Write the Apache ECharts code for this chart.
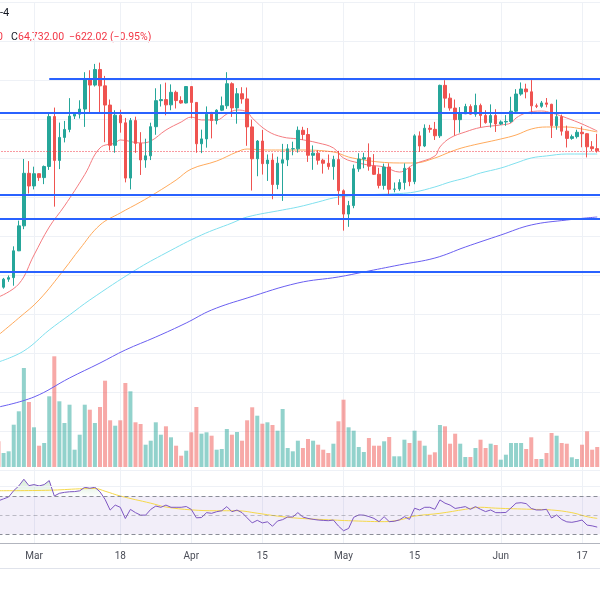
<!DOCTYPE html>
<html><head><meta charset="utf-8">
<script src="https://cdn.jsdelivr.net/npm/echarts@6/dist/echarts.min.js"></script>
<style>html,body{margin:0;padding:0;background:#fff}#c{width:600px;height:600px}</style>
</head><body><div id="c"></div>
<script>
// ---- categories: daily dates 2024-02-23 .. 2024-06-21 ----
const firstDay = [2024, 1, 23];
const dayCount = 120;
const dates = [];
for (let i = 0; i < dayCount; i++) {
  dates.push(new Date(Date.UTC(firstDay[0], firstDay[1], firstDay[2] + i)).toISOString().slice(0, 10));
}
const tickDates = ['2024-03-01','2024-03-18','2024-04-01','2024-04-15','2024-05-01','2024-05-15','2024-06-01','2024-06-17'];
const tickLabels = ['Mar','18','Apr','15','May','15','Jun','17'];

// ---- OHLC (Feb 23 .. Jun 20) ----
const open = [51300,50750,51570,51730,54480,57040,62430,
 61130,62390,61990,63130,68250,63750,66110,66930,68300,68500,69020,72120,71480,73080,71400,69430,65300,68390,67610,61940,67840,65500,63800,64220,67210,69880,69990,69450,70740,69890,69640,
 71330,69700,65460,65960,68500,67840,68900,69360,71620,69140,70590,70060,67190,63920,65740,63420,63790,61280,63470,63820,64940,64940,66840,66410,64280,64500,63770,63460,63120,63840,
 60640,58250,59120,62890,63890,64030,63160,62330,61190,63070,60790,60820,61480,62940,61580,66270,65230,67050,66940,66280,71450,70140,69120,67930,68530,69280,68500,69390,68360,67630,68360,
 67490,67700,67750,68800,70560,71080,70790,69350,69300,69650,69510,67320,68240,66750,66010,66190,66640,66490,65150,64960];
const high = [51550,51700,51950,54940,57580,63900,63680,
 63110,62430,63230,68700,69170,67630,67800,70140,68680,69920,72800,73000,73650,73780,72420,70000,68900,68950,68110,68100,68240,66650,65980,67620,71150,71560,71730,71550,70910,70330,71370,
 71340,69710,66910,69290,68730,69000,70300,72800,71760,71170,71260,71230,67940,65840,66880,64360,64470,64130,65450,65420,65670,67230,67200,67080,65290,64790,63920,64360,64230,64730,
 60780,59600,63320,64490,64530,65500,64400,62990,63420,63460,61490,61820,63450,63100,66440,66730,67450,67400,67700,71520,71980,70630,70000,69220,69560,69500,70600,69580,68900,69500,69000,
 67860,68400,70280,71060,71750,71620,71990,69580,69850,70150,69560,69990,68450,67320,66400,66900,67250,66560,65730,66480];
const low = [50550,50600,51300,50900,54450,56700,60360,
 60780,61650,61320,62780,59010,62860,65600,66640,68000,68050,67190,68620,71330,68560,65620,64780,64540,66600,61500,60780,64530,62260,63000,63790,66380,69280,68380,68900,69080,69570,69600,
 68060,64540,64500,65060,66010,67450,68810,69040,68210,67520,69570,65250,60660,62130,62300,61650,59770,60800,59600,63170,64280,64550,65850,63600,62790,63320,62400,62800,61770,59190,
 56550,56940,58850,62580,62950,62700,62260,60880,60760,60190,60480,60630,60750,61110,61310,64620,65120,66600,65850,66060,69160,68850,66300,66600,68520,68460,68230,67130,67520,67120,66670,
 67390,67300,67600,68560,70390,70120,68500,69120,69150,69200,66050,66900,66300,65080,65870,66000,65100,64060,64690,64550];
const close = [50750,51570,51730,54480,57040,62430,61130,
 62390,61990,63130,68250,63750,66110,66930,68300,68500,69020,72120,71480,73080,71400,69430,65300,68390,67610,61940,67840,65500,63800,64220,67210,69880,69990,69450,70740,69890,69640,71330,
 69700,65460,65960,68500,67840,68900,69360,71620,69140,70590,70060,67190,63920,65740,63420,63790,61280,63470,63820,64940,64960,66840,66410,64280,64500,63770,63460,63120,63840,60640,
 58250,59120,62890,63890,64030,63160,62330,61190,63070,60790,60820,61480,62940,61580,66270,65230,67050,66940,66280,71450,70140,69120,67930,68530,69280,68500,69390,68360,67630,68360,67490,
 67700,67750,68800,70560,71080,70790,69350,69300,69650,69510,67320,68240,66750,66010,66190,66640,66490,65150,64960,64732];

// ---- volume (BTC) ----
const volume = [25700,14000,15700,42300,55700,99000,65000,
 39700,21300,24000,70700,110700,65700,44000,62300,17300,32300,62300,57300,44000,60000,86300,46700,41300,46700,84000,75700,44700,43000,22300,26300,44700,32300,40700,29700,21300,11300,16300,
 34700,60000,33300,34700,31300,17300,18000,38000,32300,35000,26300,46700,59700,51300,43300,44700,42000,36300,58000,19000,15700,26300,19000,28000,26300,22300,17300,14000,23300,45700,
 67300,39700,36300,20000,15000,29000,21300,21300,25700,30000,10700,10700,27300,24000,36300,26300,21300,12300,14700,42000,40700,23300,33300,23300,10000,10000,19000,27300,19000,23300,22000,
 7300,12300,24000,24000,24000,18000,29700,8000,8000,14000,34000,31300,24000,23300,9700,8000,22300,35700,17300,20000];

// ---- moving averages [date, price] ----
const ma20 = [['2024-02-23',49740],['2024-02-27',51080],['2024-03-01',54050],['2024-03-04',56920],['2024-03-07',59080],['2024-03-11',62300],['2024-03-14',65030],['2024-03-17',65540],['2024-03-18',65850],['2024-03-22',65540],['2024-03-24',65740],['2024-03-27',66870],['2024-03-30',67690],['2024-04-01',68200],['2024-04-03',67900],['2024-04-06',67900],['2024-04-08',68510],['2024-04-10',68920],['2024-04-12',68720],['2024-04-13',68100],['2024-04-16',66770],['2024-04-19',66150],['2024-04-22',65950],['2024-04-26',65540],['2024-04-29',65030],['2024-05-01',64000],['2024-05-04',63490],['2024-05-06',63280],['2024-05-09',63080],['2024-05-12',62560],['2024-05-15',63390],['2024-05-19',64200],['2024-05-20',65130],['2024-05-22',66050],['2024-05-25',66670],['2024-05-28',67130],['2024-06-01',67390],['2024-06-03',67590],['2024-06-04',68100],['2024-06-06',68620],['2024-06-09',68820],['2024-06-11',68620],['2024-06-14',68100],['2024-06-17',67490],['2024-06-20',66770]];
const ma50 = [['2024-02-23',45850],['2024-02-27',47590],['2024-03-02',49440],['2024-03-07',52610],['2024-03-10',54660],['2024-03-14',57130],['2024-03-18',58360],['2024-03-22',59490],['2024-03-25',60410],['2024-03-29',61740],['2024-04-01',62870],['2024-04-06',63690],['2024-04-10',64620],['2024-04-12',64920],['2024-04-16',64820],['2024-04-22',64820],['2024-04-29',64620],['2024-05-02',64100],['2024-05-05',63800],['2024-05-08',63590],['2024-05-12',63490],['2024-05-15',63490],['2024-05-19',64000],['2024-05-22',64620],['2024-05-25',65130],['2024-06-01',65950],['2024-06-04',66360],['2024-06-07',66970],['2024-06-10',67180],['2024-06-14',67180],['2024-06-17',66970],['2024-06-20',66670]];
const ma100 = [['2024-02-23',43080],['2024-02-28',44210],['2024-03-04',46360],['2024-03-08',47900],['2024-03-12',49440],['2024-03-21',52510],['2024-03-27',54260],['2024-04-03',56100],['2024-04-09',57330],['2024-04-12',57950],['2024-04-19',58670],['2024-04-22',58970],['2024-04-26',59490],['2024-04-29',59900],['2024-05-02',60100],['2024-05-05',60210],['2024-05-12',60360],['2024-05-15',60510],['2024-05-19',61030],['2024-05-22',61540],['2024-05-25',61950],['2024-05-28',62460],['2024-06-01',62970],['2024-06-04',63490],['2024-06-07',64000],['2024-06-10',64210],['2024-06-14',64410],['2024-06-17',64410],['2024-06-20',64410]];
const ma200 = [['2024-02-23',38460],['2024-03-01',39490],['2024-03-08',41440],['2024-03-14',42970],['2024-03-19',44310],['2024-03-25',45640],['2024-03-31',47080],['2024-04-05',48410],['2024-04-12',49640],['2024-04-22',51180],['2024-04-30',51800],['2024-05-05',52310],['2024-05-12',53030],['2024-05-19',53740],['2024-05-25',54870],['2024-06-01',56100],['2024-06-07',57130],['2024-06-14',57640],['2024-06-20',57950]];

// ---- horizontal levels ----
const levelTop = 72100;
const levelTopStart = '2024-03-04';
const levels = [68600, 60200, 57800, 52350];
const lastPrice = 64732;

// ---- RSI (daily) and its moving average ----
const rsi = [65,67,69,75.6,80.5,87.5,80.8,81.9,80.5,81.9,86.1,70,72.8,73.8,74.4,74.6,75.4,79.1,78.1,79.1,
 74.4,66.5,55.3,60.5,58.2,46.5,56,52.6,50,50,56,59.5,58.2,60.5,58.2,58.2,58.2,59,56,47.2,
 47.5,52.6,51.9,53.6,54.6,58.9,53.6,55.3,52.6,47.2,41.9,44.6,41.9,43,38.4,43.9,45.3,48.1,48.1,52.6,
 48,46.6,45.6,44.9,44.5,44.2,44.9,38.6,33.7,36.1,47.7,50.2,50,48.5,46.6,43.2,48.4,43.2,43.6,45,
 48.4,45.6,57.2,55.4,58.2,58.2,56.1,65.9,62.5,60.5,57,57.9,58.9,56.1,58.9,56.1,53.7,55.4,52.6,52.6,
 52.8,57.5,62.5,63,62,57,55.4,55.4,56.1,47,50.2,45.5,43,42.5,43.5,44.9,39.6,38.8,37.5];
const rsiMa = [['2024-02-23',75.5],['2024-03-04',76],['2024-03-10',77.5],['2024-03-13',77.8],['2024-03-15',75],['2024-03-18',70],['2024-03-24',62.5],['2024-03-27',58.5],['2024-04-01',55.5],['2024-04-06',54.6],['2024-04-10',54.6],['2024-04-14',52],['2024-04-18',49],['2024-04-22',46.8],['2024-04-29',44.9],['2024-05-02',44.2],['2024-05-09',43.2],['2024-05-12',44.9],['2024-05-15',49],['2024-05-20',51.9],['2024-05-25',56.1],['2024-05-28',58.2],['2024-05-31',57.3],['2024-06-07',56.1],['2024-06-11',55.4],['2024-06-15',52.6],['2024-06-18',48.4],['2024-06-20',46.6]];
const rsiLevels = [70, 50, 30];
const rsiGridLevel = 80.4;

// ---- build ----
const up = '#26a69a', down = '#ef5350';
const candles = open.map((o, i) => [o, close[i], low[i], high[i]]);
const volData = volume.map((v, i) => ({value: v, itemStyle: {color: close[i] >= open[i] ? 'rgba(38,166,154,0.5)' : 'rgba(239,83,80,0.5)'}}));
const isTick = (idx, val) => tickDates.indexOf(val) >= 0;
const gridBase = {left: -1.5, right: -2.3, containLabel: false, outerBoundsMode: 'none'};
const gridCol = '#eef1f6';

function xAx(gi, showSplit, showLabel) {
  return {
    type: 'category', data: dates, gridIndex: gi, boundaryGap: false,
    axisTick: {show: false},
    axisLine: {show: showLabel, lineStyle: {color: '#b2b5be', width: 1}},
    axisLabel: {show: showLabel, interval: isTick, margin: 8, fontSize: 10, color: '#4a4d57', fontFamily: 'Roboto',
      formatter: v => tickLabels[tickDates.indexOf(v)] || ''},
    splitLine: {show: showSplit, interval: isTick, lineStyle: {color: gridCol, width: 1}}
  };
}
function lineSeries(pts, color, width) {
  return {type: 'line', xAxisIndex: 0, yAxisIndex: 0, data: pts, showSymbol: false, smooth: 0.4,
    lineStyle: {color: color, width: width}, silent: true, z: 3};
}

const option = {
  animation: false,
  backgroundColor: '#ffffff',
  grid: [
    Object.assign({top: 2, height: 468}, gridBase),
    Object.assign({top: 337, height: 130}, gridBase),
    Object.assign({top: 470, height: 73}, gridBase),
    Object.assign({top: 470, height: 26}, gridBase)
  ],
  xAxis: [xAx(0, true, false), xAx(1, false, false), xAx(2, true, true), xAx(3, false, false)],
  yAxis: [
    {gridIndex: 0, min: 32000, max: 80000, interval: 4000, axisLabel: {show: false}, axisLine: {show: false}, axisTick: {show: false},
      splitLine: {show: true, lineStyle: {color: gridCol}}},
    {gridIndex: 1, min: 0, max: 130000, show: false, splitLine: {show: false}},
    {gridIndex: 2, min: 20.9, max: 97.15, axisLabel: {show: false}, axisLine: {show: false}, axisTick: {show: false}, splitLine: {show: false}},
    {gridIndex: 3, min: 70, max: 97.15, show: false, splitLine: {show: false}}
  ],
  series: [
    {type: 'bar', xAxisIndex: 1, yAxisIndex: 1, data: volData, barWidth: 4, silent: true, z: 1},
    {type: 'candlestick', xAxisIndex: 0, yAxisIndex: 0, data: candles, barWidth: 3, silent: true, z: 4,
      itemStyle: {color: up, color0: down, borderColor: up, borderColor0: down, borderWidth: 1},
      markLine: {silent: true, symbol: 'none', animation: false, label: {show: false},
        data: [
          [{coord: [levelTopStart, levelTop]}, {coord: [dates[dates.length - 1], levelTop]}],
          ...levels.map(v => ({yAxis: v})),
          {yAxis: lastPrice, lineStyle: {color: '#f23645', type: [1, 2], width: 1}}
        ],
        lineStyle: {color: '#2962ff', width: 2, type: 'solid'}}},
    lineSeries(ma200, '#6a5ff0', 1),
    lineSeries(ma100, '#80e0ee', 1),
    lineSeries(ma50, '#ffaa5c', 1),
    lineSeries(ma20, '#f47c80', 1),
    {type: 'line', xAxisIndex: 3, yAxisIndex: 3, data: rsi, showSymbol: false, silent: true, z: 2,
      lineStyle: {opacity: 0, width: 0},
      areaStyle: {origin: 'start', color: new echarts.graphic.LinearGradient(0, 468, 0, 496, [
        {offset: 0, color: 'rgba(76,175,80,0.55)'}, {offset: 1, color: 'rgba(76,175,80,0.02)'}], true)}},
    {type: 'line', xAxisIndex: 2, yAxisIndex: 2, data: rsi, showSymbol: false, silent: true, z: 4,
      lineStyle: {color: '#7e57c2', width: 1},
      markArea: {silent: true, itemStyle: {color: 'rgba(126,87,194,0.1)'}, data: [[{yAxis: rsiLevels[2]}, {yAxis: rsiLevels[0]}]]},
      markLine: {silent: true, symbol: 'none', label: {show: false},
        lineStyle: {color: '#8a8d97', width: 1, type: [4, 3]},
        data: [{yAxis: rsiLevels[0]}, {yAxis: rsiLevels[1], lineStyle: {color: 'rgba(120,123,134,0.45)', type: [4, 3]}}, {yAxis: rsiLevels[2]},
               {yAxis: rsiGridLevel, lineStyle: {color: gridCol, type: 'solid'}}]}},
    {type: 'line', xAxisIndex: 2, yAxisIndex: 2, data: rsiMa, showSymbol: false, smooth: 0.4, silent: true, z: 3,
      lineStyle: {color: '#f5d84a', width: 1}}
  ],
  graphic: [
    {type: 'line', shape: {x1: 0, y1: 568.5, x2: 600, y2: 568.5}, style: {stroke: '#e0e3eb', lineWidth: 1}, silent: true},
    {type: 'text', x: 0, y: 8, style: {text: '-4', fontSize: 11, fill: '#131722', fontFamily: 'Roboto'}, silent: true},
    {type: 'text', x: -3, y: 32, style: {text: '0', fontSize: 10.5, fill: '#f23645', fontFamily: 'Roboto'}, silent: true},
    {type: 'text', x: 11, y: 32, style: {text: 'C', fontSize: 10.5, fill: '#131722', fontFamily: 'Roboto'}, silent: true},
    {type: 'text', x: 18, y: 32, style: {text: '64,732.00', fontSize: 10.5, fill: '#f23645', fontFamily: 'Roboto'}, silent: true},
    {type: 'text', x: 69, y: 32, style: {text: '\u2212622.02 (\u22120.95%)', fontSize: 10.5, fill: '#f23645', fontFamily: 'Roboto'}, silent: true}
  ]
};
echarts.init(document.getElementById('c'), null, {renderer: 'canvas'}).setOption(option);
</script></body></html>
